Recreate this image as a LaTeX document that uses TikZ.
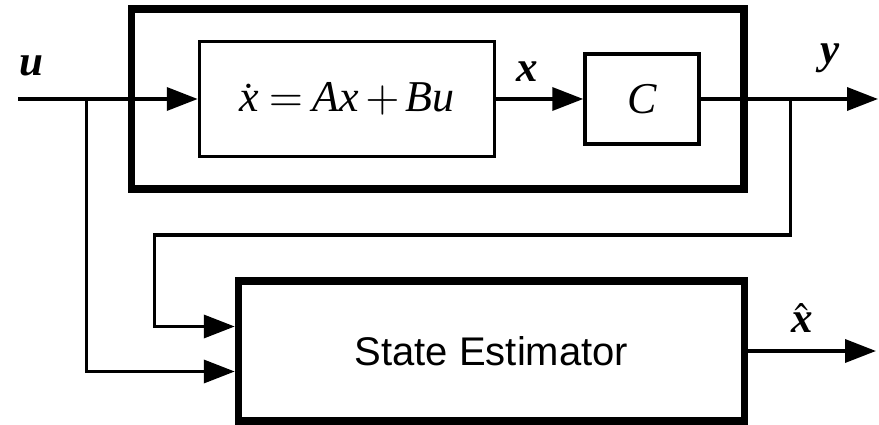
\documentclass[tikz,border=0pt]{standalone}
\usepackage[no-math]{fontspec}
\usepackage{mathptmx}
\newfontfamily\sansfont{Liberation Sans}
\newfontfamily\eqfont{Liberation Serif}
\newcommand{\varsym}[1]{\mbox{\eqfont\itshape #1}}
\newcommand{\sigsym}[1]{\mbox{\eqfont\bfseries\itshape #1}}
\usetikzlibrary{positioning, arrows.meta}
\tikzstyle{blk}=[draw, line width=3.5pt, inner sep=0pt, font=\fontsize{44}{46}\selectfont]
\tikzstyle{frame}=[draw, line width=7.5pt, inner sep=0pt]
\tikzstyle{sig}=[inner sep=0pt, font=\fontsize{43}{46}\selectfont]
\tikzstyle{ar}=[-{Triangle[length=31pt,width=23pt]}, line width=3.6pt]

\begin{document}
\begin{tikzpicture}[x=1pt, y=-1pt]
    \useasboundingbox (0,0) rectangle (879,425);
    \node[frame, minimum width=612.5pt, minimum height=180pt] (sys) at (437.75,99) {};
    \node[blk, minimum width=295pt, minimum height=115pt] (plant) at (347,99)
        {$\dot{\varsym{x}} = \varsym{Ax} + \varsym{Bu}$};
    \node[blk, minimum width=114pt, minimum height=90pt]  (outm)  at (642,99) {\varsym{C}};
    \node[frame, minimum width=506pt, minimum height=140pt,
          font=\sansfont\fontsize{40}{44}\selectfont] (est) at (491.5,351) {State Estimator};
    \coordinate (uin)  at (18,99);
    \coordinate (ubr)  at (86.5,99);
    \coordinate (ybr)  at (790.5,99);
    \coordinate (yout) at (878,99);
    \coordinate (fb)   at (154.5,235);
    \coordinate (xout) at (876,351);
    \node[sig] (ulab)  at (31,66)  {\sigsym{u}};
    \node[sig] (xlab)  at (527,72) {\sigsym{x}};
    \node[sig] (ylab)  at (830,58) {\sigsym{y}};
    \node[sig] (xhlab) at (802,318) {$\hat{\sigsym{x}}$};
    \draw[ar] (uin)--(plant); \draw[ar] (plant)--(outm);
    \draw[ar] (outm)--(yout); \draw[ar] (est)--(xout);
    \draw[ar] (ubr) |- ([yshift=-20.5pt]est.west);
    \draw[ar] (ybr) |- (fb) |- ([yshift=24.5pt]est.west);
  \end{tikzpicture}
\end{document}
